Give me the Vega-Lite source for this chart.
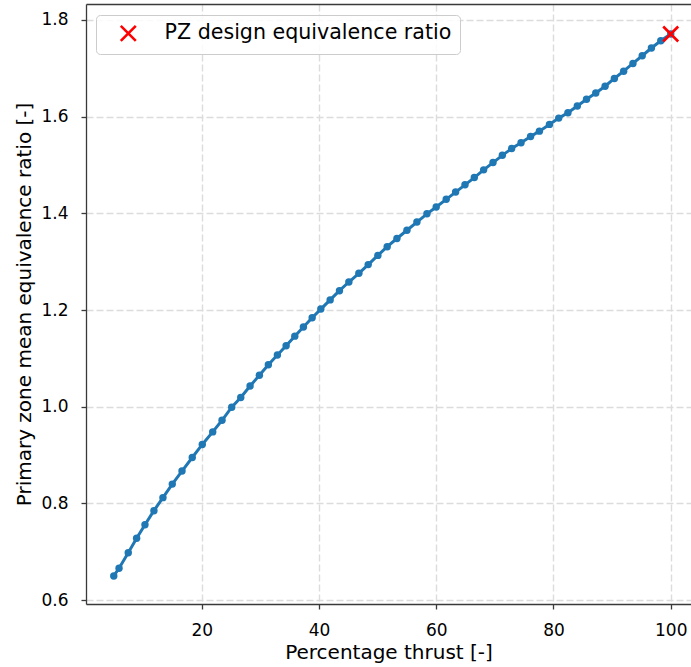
{
  "$schema": "https://vega.github.io/schema/vega-lite/v6.json",
  "width": 605,
  "height": 600,
  "autosize": {"type": "none"},
  "padding": {"left": 86, "top": 4, "right": 0, "bottom": 63},
  "background": "white",
  "config": {
    "view": {"stroke": null},
    "font": "DejaVu Sans",
    "axis": {
      "labelFont": "DejaVu Sans",
      "labelFontSize": 17,
      "labelColor": "#000000",
      "titleFont": "DejaVu Sans",
      "titleFontSize": 20,
      "titleFontWeight": "normal",
      "titleColor": "#000000",
      "domainColor": "#3a3a3a",
      "domainWidth": 1.3,
      "tickColor": "#3a3a3a",
      "tickWidth": 1.3,
      "tickSize": 5,
      "labelPadding": 13,
      "gridColor": "#dcdcdc",
      "gridWidth": 1.4,
      "gridDash": [7, 3]
    },
    "legend": {
      "orient": "none",
      "legendX": 10,
      "legendY": 11,
      "padding": 8,
      "fillColor": "rgba(255,255,255,0.85)",
      "strokeColor": "#cccccc",
      "cornerRadius": 4,
      "labelFont": "DejaVu Sans",
      "labelFontSize": 20.6,
      "labelColor": "#000000",
      "labelLimit": 0,
      "symbolOffset": 14,
      "labelOffset": 26,
      "symbolSize": 225,
      "symbolStrokeWidth": 2.6,
      "symbolType": "M-1,-1L1,1M-1,1L1,-1",
      "symbolStrokeColor": "red"
    }
  },
  "layer": [
    {
      "data": {
        "values": [
          {"thrust": 5.0, "phi": 0.650},
          {"thrust": 5.9, "phi": 0.666},
          {"thrust": 7.47, "phi": 0.698},
          {"thrust": 8.90, "phi": 0.728},
          {"thrust": 10.32, "phi": 0.756},
          {"thrust": 11.85, "phi": 0.785},
          {"thrust": 13.39, "phi": 0.812},
          {"thrust": 14.98, "phi": 0.840},
          {"thrust": 16.64, "phi": 0.867},
          {"thrust": 18.39, "phi": 0.895},
          {"thrust": 20.10, "phi": 0.922},
          {"thrust": 21.88, "phi": 0.948},
          {"thrust": 23.47, "phi": 0.972},
          {"thrust": 25.12, "phi": 0.999},
          {"thrust": 26.66, "phi": 1.019},
          {"thrust": 28.25, "phi": 1.043},
          {"thrust": 29.84, "phi": 1.065},
          {"thrust": 31.37, "phi": 1.087},
          {"thrust": 32.91, "phi": 1.107},
          {"thrust": 34.40, "phi": 1.126},
          {"thrust": 35.88, "phi": 1.146},
          {"thrust": 37.35, "phi": 1.165},
          {"thrust": 38.84, "phi": 1.184},
          {"thrust": 40.32, "phi": 1.202},
          {"thrust": 41.91, "phi": 1.221},
          {"thrust": 43.50, "phi": 1.240},
          {"thrust": 45.10, "phi": 1.258},
          {"thrust": 46.81, "phi": 1.276},
          {"thrust": 48.40, "phi": 1.294},
          {"thrust": 50.05, "phi": 1.313},
          {"thrust": 51.64, "phi": 1.331},
          {"thrust": 53.30, "phi": 1.348},
          {"thrust": 55.01, "phi": 1.365},
          {"thrust": 56.71, "phi": 1.382},
          {"thrust": 58.42, "phi": 1.399},
          {"thrust": 60.00, "phi": 1.413},
          {"thrust": 61.71, "phi": 1.429},
          {"thrust": 63.31, "phi": 1.444},
          {"thrust": 64.91, "phi": 1.459},
          {"thrust": 66.50, "phi": 1.474},
          {"thrust": 68.09, "phi": 1.490},
          {"thrust": 69.69, "phi": 1.505},
          {"thrust": 71.28, "phi": 1.520},
          {"thrust": 72.87, "phi": 1.534},
          {"thrust": 74.47, "phi": 1.546},
          {"thrust": 76.10, "phi": 1.559},
          {"thrust": 77.60, "phi": 1.570},
          {"thrust": 79.32, "phi": 1.584},
          {"thrust": 80.90, "phi": 1.597},
          {"thrust": 82.47, "phi": 1.608},
          {"thrust": 84.07, "phi": 1.622},
          {"thrust": 85.64, "phi": 1.636},
          {"thrust": 87.22, "phi": 1.649},
          {"thrust": 88.81, "phi": 1.663},
          {"thrust": 90.39, "phi": 1.679},
          {"thrust": 91.97, "phi": 1.694},
          {"thrust": 93.56, "phi": 1.710},
          {"thrust": 95.14, "phi": 1.726},
          {"thrust": 96.71, "phi": 1.742},
          {"thrust": 98.31, "phi": 1.757},
          {"thrust": 100.0, "phi": 1.771}
        ]
      },
      "mark": {
        "type": "line",
        "color": "#1f77b4",
        "strokeWidth": 3,
        "point": {"filled": true, "size": 55, "color": "#1f77b4", "opacity": 1}
      },
      "encoding": {
        "x": {
          "field": "thrust",
          "type": "quantitative",
          "scale": {"domain": [0.264, 103.46], "nice": false, "zero": false},
          "axis": {
            "orient": "bottom",
            "values": [20, 40, 60, 80, 100],
            "title": "Percentage thrust [-]",
            "titlePadding": 4,
            "grid": true
          }
        },
        "y": {
          "field": "phi",
          "type": "quantitative",
          "scale": {"domain": [0.592, 1.833], "nice": false, "zero": false},
          "axis": {
            "values": [0.6, 0.8, 1.0, 1.2, 1.4, 1.6, 1.8],
            "format": ".1f",
            "title": "Primary zone mean equivalence ratio [-]",
            "titlePadding": 6,
            "grid": true
          }
        }
      }
    },
    {
      "data": {
        "values": [
          {"thrust": 100.0, "phi": 1.771, "label": "PZ design equivalence ratio"}
        ]
      },
      "mark": {
        "type": "point",
        "shape": "M-1,-1L1,1M-1,1L1,-1",
        "filled": false,
        "size": 225,
        "strokeWidth": 2.6,
        "opacity": 1
      },
      "encoding": {
        "x": {
          "field": "thrust",
          "type": "quantitative",
          "scale": {"domain": [0.264, 103.46], "nice": false, "zero": false},
          "axis": {
            "orient": "top",
            "labels": false,
            "ticks": false,
            "grid": false,
            "domain": true,
            "title": null
          }
        },
        "y": {
          "field": "phi",
          "type": "quantitative"
        },
        "color": {
          "field": "label",
          "type": "nominal",
          "scale": {"range": ["red"]},
          "legend": {"title": null}
        }
      }
    }
  ],
  "resolve": {"axis": {"x": "independent"}}
}
